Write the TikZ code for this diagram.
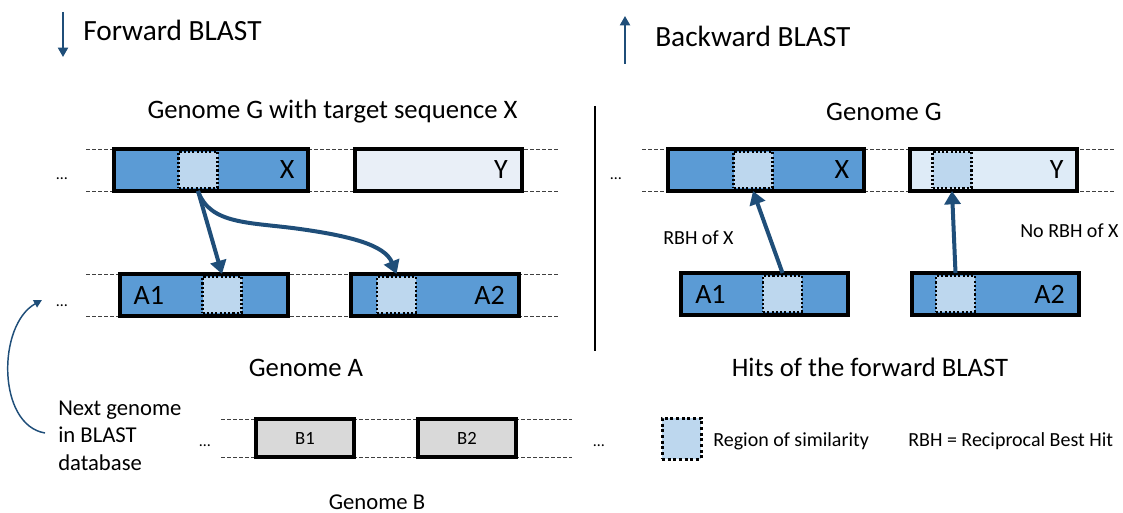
\documentclass[tikz,border=0pt]{standalone}
\usepackage{fontspec}
\setmainfont{Carlito}
\usetikzlibrary{arrows.meta}
\definecolor{boxblue}{HTML}{5B9BD5}
\definecolor{hiblue}{HTML}{BDD7EE}
\definecolor{paleA}{HTML}{E9EFF7}
\definecolor{paleB}{HTML}{DEEBF7}
\definecolor{graybox}{HTML}{D9D9D9}
\definecolor{arrowblue}{HTML}{1F4E79}
\begin{document}
\begin{tikzpicture}[x=0.75pt,y=-0.75pt,
  genebox/.style={draw=black, line width=2.6pt, minimum height=31.5pt, inner sep=0pt, outer sep=0pt},
  hit/.style={draw=black, fill=hiblue, line width=1.6pt, dash pattern=on 1.6pt off 1.6pt, minimum width=29.25pt, minimum height=27pt, inner sep=0pt, outer sep=2.25pt},
  guide/.style={draw=black!75, line width=0.6pt, dash pattern=on 3pt off 1.5pt},
  link/.style={draw=arrowblue, line width=3pt, -{Triangle[width=12pt,length=10pt]}},
  thinarrow/.style={draw=arrowblue, line width=1.5pt, -{Triangle[width=7.5pt,length=7pt]}},
  nextarrow/.style={draw=arrowblue, line width=1.1pt, -{Triangle[width=6pt,length=6pt]}},
  lbl/.style={font=\fontsize{21pt}{25pt}\selectfont, inner sep=0pt},
  blbl/.style={font=\fontsize{14pt}{16pt}\selectfont, inner sep=0pt},
  title/.style={font=\fontsize{22pt}{26pt}\selectfont, inner sep=0pt},
  head/.style={font=\fontsize{20pt}{24pt}\selectfont, inner sep=0pt},
  small/.style={font=\fontsize{15pt}{18pt}\selectfont, inner sep=0pt},
  mid/.style={font=\fontsize{17pt}{20pt}\selectfont, inner sep=0pt},
  dots/.style={font=\fontsize{12pt}{14pt}\selectfont, inner sep=0pt, anchor=base},
]
\useasboundingbox (0,0) rectangle (1123,513);

% guide lines
\draw[guide] (86,149) -- (560,149);
\draw[guide] (86,191) -- (560,191);
\draw[guide] (86,274) -- (560,274);
\draw[guide] (86,316) -- (560,316);
\draw[guide] (642,149) -- (1116,149);
\draw[guide] (642,191) -- (1116,191);
\draw[guide] (221,419) -- (572,419);
\draw[guide] (221,457) -- (572,457);

% dots
\node[dots] (d1) at (62,180) {…};
\node[dots] (d2) at (62,306) {…};
\node[dots] (d3) at (616,180) {…};
\node[dots] (d4) at (205,446) {…};
\node[dots] (d5) at (599,446) {…};

% titles
\coordinate (fwdA) at (63,12);
\coordinate (fwdB) at (63,57);
\draw[thinarrow] (fwdA) -- (fwdB);
\node[title, anchor=base west] (fwd) at (83,41) {Forward BLAST};
\coordinate (bwdA) at (625,64);
\coordinate (bwdB) at (625,16);
\draw[thinarrow] (bwdA) -- (bwdB);
\node[title, anchor=base west] (bwd) at (655,47) {Backward BLAST};

\node[head, anchor=base] (gG) at (332.5,119) {Genome G with target sequence X};
\node[head, anchor=base] (gG2) at (884,121) {Genome G};
\node[head, anchor=base] (gA) at (306,376) {Genome A};
\node[head, anchor=base] (hits) at (870,376) {Hits of the forward BLAST};
\node[mid, anchor=base] (gB) at (377,509) {Genome B};

% divider
\draw[line width=1.5pt] (595,106) -- (595,351);

% left boxes
\node[genebox, fill=boxblue, minimum width=145.5pt] (lX) at (211,170) {};
\node[genebox, fill=paleA, minimum width=125.25pt] (lY) at (438.5,170) {};
\node[genebox, fill=boxblue, minimum width=126pt] (lA1) at (204,295) {};
\node[genebox, fill=boxblue, minimum width=126pt] (lA2) at (435,295) {};
\node[lbl, anchor=east] (lXt) at ([xshift=-10pt]lX.east) {X};
\node[lbl, anchor=east] (lYt) at ([xshift=-10.5pt]lY.east) {Y};
\node[lbl, anchor=west] (lA1t) at ([xshift=10pt]lA1.west) {A1};
\node[lbl, anchor=east] (lA2t) at ([xshift=-10.5pt]lA2.east) {A2};
\node[hit] (hlX) at (198,170) {};
\node[hit] (hlA1) at (222,295) {};
\node[hit] (hlA2) at (396.5,295) {};

% right boxes
\node[genebox, fill=boxblue, minimum width=147pt] (rX) at (766,170) {};
\node[genebox, fill=paleB, minimum width=125.25pt] (rY) at (993.5,170) {};
\node[genebox, fill=boxblue, minimum width=125.25pt] (rA1) at (764.5,294) {};
\node[genebox, fill=boxblue, minimum width=125.25pt] (rA2) at (995.5,294) {};
\node[lbl, anchor=east] (rXt) at ([xshift=-11pt]rX.east) {X};
\node[lbl, anchor=east] (rYt) at ([xshift=-10pt]rY.east) {Y};
\node[lbl, anchor=west] (rA1t) at ([xshift=10.5pt]rA1.west) {A1};
\node[lbl, anchor=east] (rA2t) at ([xshift=-10.5pt]rA2.east) {A2};
\node[hit] (hrX) at (753,170) {};
\node[hit] (hrY) at (952,170) {};
\node[hit] (hrA1) at (782.5,294) {};
\node[hit] (hrA2) at (955.5,294) {};

\node[small, anchor=base west] (rbhx) at (663,244) {RBH of X};
\node[small, anchor=base west] (norbh) at (1020,238) {No RBH of X};

% genome B
\node[genebox, fill=graybox, minimum width=73.5pt, minimum height=28.5pt] (B1) at (305,438) {};
\node[genebox, fill=graybox, minimum width=73.5pt, minimum height=28.5pt] (B2) at (467,438) {};
\node[blbl] (B1t) at (B1.center) {B1};
\node[blbl] (B2t) at (B2.center) {B2};

% next genome
\node[mid, anchor=base west] (ng1) at (58,415) {Next genome};
\node[mid, anchor=base west] (ng2) at (58,442.5) {in BLAST};
\node[mid, anchor=base west] (ng3) at (58,470) {database};
\coordinate (ngS) at (45,433);
\coordinate (ngE) at (42,300);
\draw[nextarrow] (ngS) .. controls (-3,425) and (-3,325) .. (ngE);

% legend
\node[draw=black, fill=hiblue, line width=2.25pt, dash pattern=on 2.25pt off 2pt, minimum width=29.25pt, minimum height=30.75pt, inner sep=0pt] (leg) at (681.5,438.5) {};
\node[small, anchor=base west] (legt) at (713,446) {Region of similarity};
\node[small, anchor=base west] (rbh) at (908,446) {RBH = Reciprocal Best Hit};

% connectors
\draw[link] (hlX.south) -- (hlA1.north);
\draw[link] (hlX.south) .. controls (210,225) and (250,222) .. (300,229) .. controls (350,236) and (385,245) .. (hlA2.north);
\draw[link] (hrA1.north) -- (hrX.south);
\draw[link] (hrA2.north) -- (hrY.south);
\end{tikzpicture}
\end{document}
